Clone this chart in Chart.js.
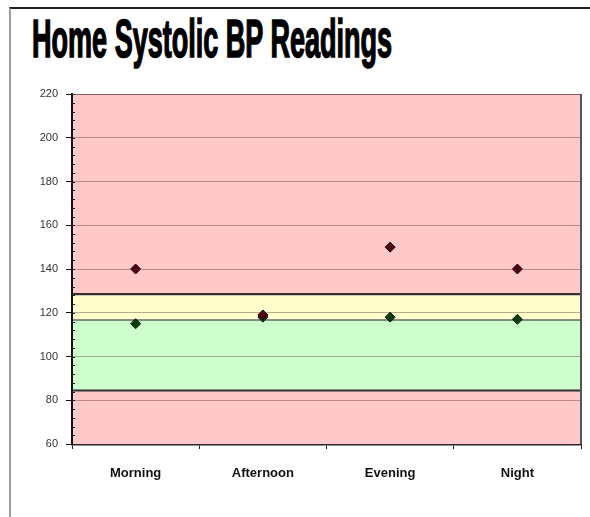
<!DOCTYPE html>
<html>
<head>
<meta charset="utf-8">
<script src="https://cdn.jsdelivr.net/npm/chart.js@4/dist/chart.umd.min.js"></script>
<style>
  body { margin: 0; background: #fff; }
  #wrap { position: relative; width: 590px; height: 517px; overflow: hidden; }
  #frame {
    position: absolute; left: 9px; top: 7px; width: 620px; height: 560px;
    border-top: 2px solid #222; border-left: 2px solid #a0a0a0;
  }
  #title {
    position: absolute; left: 32px; top: 11px; margin: 0;
    font-family: "Liberation Sans", Arial, sans-serif; font-weight: bold;
    font-size: 54px; line-height: 54px; white-space: nowrap;
    -webkit-text-stroke: 1.6px #000; color: #000;
    transform-origin: 0 0;
  }
  canvas { position: absolute; left: 0; top: 0; }
</style>
</head>
<body>
<div id="wrap">
  <div id="frame"></div>
  <h1 id="title">Home Systolic BP Readings</h1>
  <canvas id="bp" width="590" height="517"></canvas>
</div>
<script>
// chart values
const timesOfDay = ["Morning", "Afternoon", "Evening", "Night"];
const highReadings = [140, 119, 150, 140];
const lowReadings = [115, 118, 118, 117];

// background zones (systolic ranges), bottom to top
const zoneEdges = [60, 85, 117, 129, 220];
const zoneColors = ["#ffc9c9", "#ccffcc", "#ffffcc", "#ffc9c9"];
const zoneLines = [2.5, 1.5, 2.5, 0]; // line on top of each zone

const yMin = 60, yMax = 220, yStep = 20, minorStep = 4;

// fit the title to the reference width
const title = document.getElementById("title");
title.style.transform = "scaleX(" + (360 / title.offsetWidth) + ")";

// one full-width bar per zone, on its own hidden category axis
const zoneSets = zoneColors.map((color, i) => ({
  type: "bar",
  xAxisID: "zones",
  data: [[zoneEdges[i], zoneEdges[i + 1]]],
  backgroundColor: color,
  borderColor: "#333",
  borderWidth: { top: zoneLines[i], left: 0, right: 0, bottom: 0 },
  borderSkipped: false,
  barPercentage: 1,
  categoryPercentage: 1,
  inflateAmount: 0,
  grouped: false,
  order: 5,
}));

// minor ticks on the y axis and the plot frame on the right
const framePlugin = {
  id: "frame",
  afterDraw(chart) {
    const { ctx, chartArea: a, scales: { y } } = chart;
    ctx.save();
    ctx.strokeStyle = "#222";
    ctx.lineWidth = 1;
    ctx.beginPath();
    for (let v = yMin; v <= yMax; v += minorStep) {
      const py = Math.round(y.getPixelForValue(v)) + 0.5;
      ctx.moveTo(a.left - 1, py);
      ctx.lineTo(a.left + 3, py);
    }
    ctx.stroke();
    ctx.strokeStyle = "#555";
    ctx.lineWidth = 2;
    ctx.beginPath();
    ctx.moveTo(a.right, a.top);
    ctx.lineTo(a.right, a.bottom);
    ctx.stroke();
    ctx.strokeStyle = "rgba(90,60,60,0.6)";
    ctx.lineWidth = 1;
    ctx.beginPath();
    ctx.moveTo(a.left, a.top + 0.5);
    ctx.lineTo(a.right, a.top + 0.5);
    ctx.stroke();
    ctx.restore();
  },
};

const ctx = document.getElementById("bp").getContext("2d");
new Chart(ctx, {
  type: "bar",
  data: {
    labels: timesOfDay,
    datasets: [
      {
        type: "line",
        data: highReadings,
        showLine: false,
        pointStyle: "rectRot",
        pointRadius: 5,
        backgroundColor: "#4a0010",
        borderColor: "#2a0008",
        borderWidth: 1,
        order: 0,
      },
      {
        type: "line",
        data: lowReadings,
        showLine: false,
        pointStyle: "rectRot",
        pointRadius: 5,
        backgroundColor: "#0b3d10",
        borderColor: "#062008",
        borderWidth: 1,
        order: 0,
      },
      ...zoneSets,
    ],
  },
  options: {
    responsive: false,
    animation: false,
    devicePixelRatio: 1,
    layout: { padding: { left: 10, right: 9, top: 94, bottom: 29 } },
    plugins: {
      legend: { display: false },
      tooltip: { enabled: false },
    },
    scales: {
      x: {
        offset: true,
        grid: {
          offset: true,
          drawOnChartArea: false,
          tickLength: 5,
          tickColor: "#222",
        },
        border: { color: "#222", width: 2.5 },
        ticks: {
          padding: 17,
          color: "#111",
          font: { family: "Liberation Sans, Arial, sans-serif", size: 13, weight: "bold" },
        },
        afterFit: (s) => { s.height = 44; },
      },
      zones: {
        type: "category",
        labels: ["zone"],
        offset: true,
        display: false,
      },
      y: {
        min: yMin,
        max: yMax,
        ticks: {
          stepSize: yStep,
          padding: 8,
          color: "#333",
          font: { family: "Liberation Sans, Arial, sans-serif", size: 11 },
        },
        grid: {
          z: 1,
          color: "rgba(90,45,45,0.4)",
          tickColor: "#111",
          tickLength: 6,
        },
        border: { color: "#111", width: 2, z: 2 },
        afterFit: (s) => { s.width = 62; },
      },
    },
  },
  plugins: [framePlugin],
});
</script>
</body>
</html>
